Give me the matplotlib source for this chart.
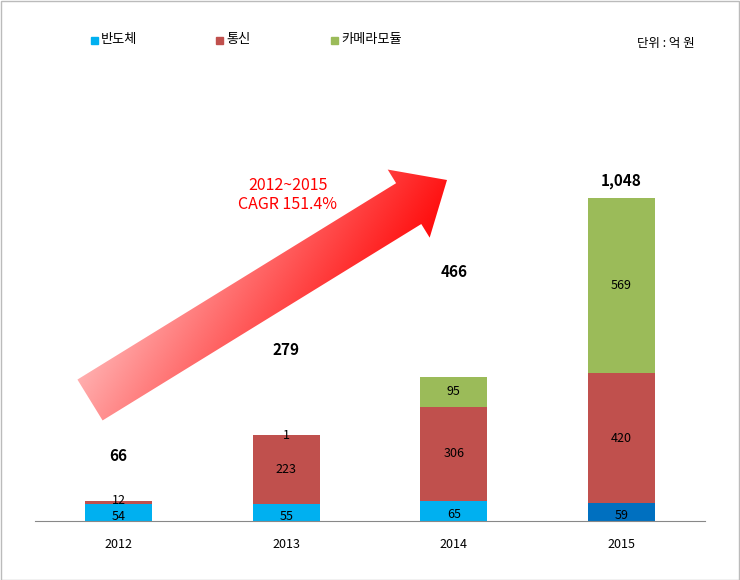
import matplotlib.pyplot as plt
import numpy as np
from matplotlib.path import Path
from matplotlib.patches import PathPatch, Rectangle

plt.rcParams['font.family'] = ['Noto Sans CJK JP', 'Noto Sans CJK KR', 'DejaVu Sans']

years = ['2012', '2013', '2014', '2015']
semi = [54, 55, 65, 59]
comm = [12, 223, 306, 420]
camera = [0, 1, 95, 569]
totals = ['66', '279', '466', '1,048']
total_label_gap = [45, 85, 105, 17]  # vertical gap above bars, in pixels

W, H = 740, 580
fig = plt.figure(figsize=(W / 100, H / 100), dpi=100)
ax_l, ax_r, ax_b, ax_t = 35, 705, 521, 120
ax = fig.add_axes([ax_l / W, (H - ax_b) / H, (ax_r - ax_l) / W, (ax_b - ax_t) / H])
ymax = 1300
ax.set_xlim(-0.5, 3.5)
ax.set_ylim(0, ymax)

x = np.arange(len(years))
wbar = 0.4
semi_colors = ['#00B0F0', '#00B0F0', '#00B0F0', '#0070C0']
ax.bar(x, semi, wbar, color=semi_colors)
ax.bar(x, comm, wbar, bottom=semi, color='#C0504D')
bottom2 = np.array(semi) + np.array(comm)
ax.bar(x, camera, wbar, bottom=bottom2, color='#9BBB59')

px_per_unit = (ax_b - ax_t) / ymax
for i in range(len(years)):
    ax.text(x[i], semi[i] / 2 - 12, str(semi[i]), ha='center', va='center', fontsize=9)
    ax.text(x[i], semi[i] + comm[i] / 2 + (5 if i == 0 else 0), str(comm[i]), ha='center', va='center', fontsize=9)
    if camera[i] > 0:
        cy = bottom2[i] + camera[i] / 2 if camera[i] > 10 else bottom2[i] - 2
        ax.text(x[i], cy, str(camera[i]), ha='center', va='center', fontsize=9)
    top = bottom2[i] + camera[i]
    ax.text(x[i], top + total_label_gap[i] / px_per_unit, totals[i], ha='center', va='center',
            fontsize=11, fontweight='bold')

ax.set_xticks(x)
ax.set_xticklabels(years, fontsize=9)
ax.tick_params(length=0, pad=12)
ax.set_yticks([])
for s in ['top', 'right', 'left']:
    ax.spines[s].set_visible(False)
ax.spines['bottom'].set_color('#888888')

# gradient arrow drawn in pixel coordinates, converted to data
def p2d(px, py):
    return (-0.5 + (px - ax_l) / (ax_r - ax_l) * 4, (ax_b - py) / (ax_b - ax_t) * ymax)

tail = np.array([90.0, 400.0]); tip = np.array([447.0, 180.0])
d = tip - tail; L = np.linalg.norm(d); u = d / L; n = np.array([-u[1], u[0]])
sw, hw, hl = 24, 40, 45
base = tip - u * hl
pts = [tail + n * sw, base + n * sw, base + n * hw, tip, base - n * hw, base - n * sw, tail - n * sw, tail + n * sw]
verts = [p2d(*p) for p in pts]
patch = PathPatch(Path(verts, closed=True), facecolor='none', edgecolor='none')
ax.add_patch(patch)
xs = np.linspace(50, 490, 300); ys = np.linspace(130, 450, 300)
XX, YY = np.meshgrid(xs, ys)
t = ((XX - tail[0]) * u[0] + (YY - tail[1]) * u[1]) / L
t = np.clip(t * 1.25, 0, 1)
rgba = np.zeros(t.shape + (4,))
rgba[..., 0] = 1.0
rgba[..., 3] = t ** 0.9
x0, y0 = p2d(50, 450); x1, y1 = p2d(490, 130)
im = ax.imshow(rgba, extent=[x0, x1, y0, y1], origin='lower', aspect='auto', zorder=3)
im.set_clip_path(patch)
ax.set_xlim(-0.5, 3.5); ax.set_ylim(0, ymax)
fig.text(288 / W, 1 - 195 / H, '2012~2015\nCAGR 151.4%', color='#FF0000', fontsize=11.5,
         ha='center', va='center', linespacing=1.15)

# legend
for lx, col, lab in [(95, '#00B0F0', '반도체'), (220, '#C0504D', '통신'), (335, '#9BBB59', '카메라모듈')]:
    fig.patches.append(Rectangle(((lx - 4) / W, 1 - 44 / H), 7 / W, 7 / H, color=col, transform=fig.transFigure))
    fig.text((lx + 6) / W, 1 - 40 / H, lab, fontsize=9.5, va='center')
fig.text(695 / W, 1 - 44 / H, '단위 : 억 원', fontsize=9, ha='right', va='center')

fig.patches.append(Rectangle((0.5 / W, 0.5 / H), 1 - 1.5 / W, 1 - 1.5 / H, fill=False,
                             edgecolor='#BBBBBB', lw=1, transform=fig.transFigure))
fig.savefig('out.png', dpi=100)
